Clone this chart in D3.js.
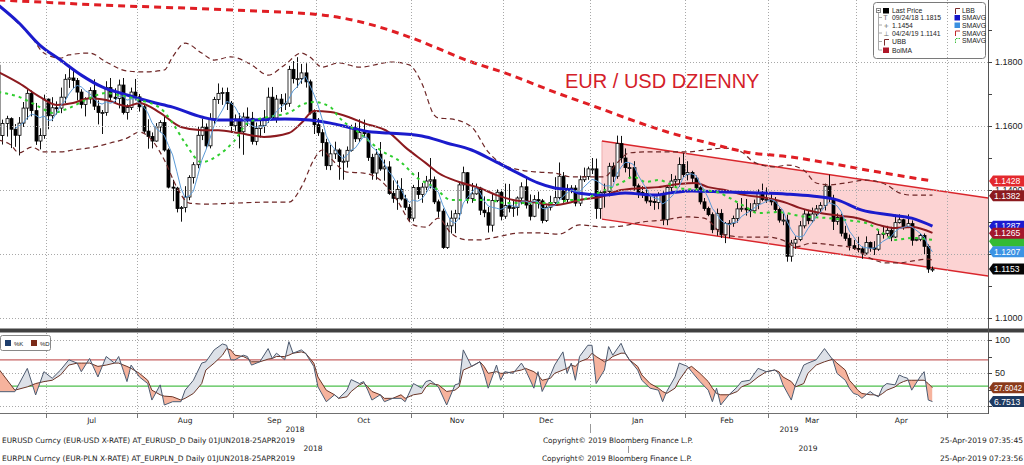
<!DOCTYPE html>
<html><head><meta charset="utf-8">
<script src="https://cdn.jsdelivr.net/npm/d3@7/dist/d3.min.js"></script>
<style>
html,body{margin:0;padding:0;background:#fff;}
svg{display:block;}
</style></head><body>
<svg id="chart" width="1024" height="465"></svg>
<script>
// ================= DATA =================
const startDate = "2018-06-14";
const firstOpen = 11790;              // price x 10000
const closes = [
11570,11608,11623,11590,11571,11609,11656,11702,11648,11553,11570,11684,
11632,11657,11656,11690,11746,11750,11742,11706,11667,11685,11711,11662,11642,11642,11720,11690,11686,11728,11642,11658,11706,11691,
11660,11584,11567,11553,11597,11611,11525,11409,11406,11342,11345,11378,11439,11479,11571,11596,11538,11622,11683,11702,11705,11671,11601,
11622,11582,11628,11624,11552,11592,11601,11625,11690,11625,11684,11669,11671,11777,11748,11748,11766,11738,11641,11604,
11579,11548,11476,11513,11525,11489,11490,11524,11594,11560,11580,11576,11502,11453,11512,11466,11472,11389,11374,11402,11372,11346,11312,
11408,11386,11409,11428,11432,11363,11334,11220,11288,11312,11326,11416,11454,11373,11388,11406,11337,11329,11290,11367,11393,11318,
11352,11343,11345,11375,11410,11353,11318,11370,11366,11305,11346,11361,11376,11443,11370,11403,11406,11359,11432,11442,11466,
11466,11342,11392,11395,11474,11443,11545,11500,11470,11470,11413,11392,11389,11366,11364,11361,11383,11307,11408,11428,11433,11480,11448,
11455,11437,11407,11363,11342,11323,11276,11327,11260,11295,11296,11311,11341,11343,11338,11335,11357,11390,11370,11371,
11363,11339,11306,11306,11193,11234,11245,11288,11325,11304,11325,11341,11352,11412,11374,11302,11314,11265,11249,11226,11217,
11216,11203,11236,11219,11215,11261,11264,11274,11253,11298,11307,11284,11295,11243,11246,11258,11224,11153,11153];
const highs = [
11852,11620,11632,11627,11606,11628,11675,11715,11711,11672,11593,11698,
11686,11690,11677,11720,11762,11791,11775,11750,11715,11690,11721,11746,11680,11650,11740,11750,11718,11745,11750,11668,11720,11747,
11700,11666,11621,11580,11609,11618,11632,11530,11432,11410,11350,11412,11446,11487,11597,11623,11608,11640,11691,11733,11720,11720,11678,
11636,11640,11642,11658,11644,11611,11625,11650,11720,11722,11697,11700,11702,11788,11803,11815,11794,11796,11745,11652,
11625,11590,11560,11541,11551,11530,11511,11536,11604,11610,11621,11620,11580,11513,11528,11550,11495,11490,11430,11430,11437,11385,11356,
11416,11456,11422,11444,11500,11442,11370,11342,11298,11336,11338,11425,11473,11456,11422,11420,11410,11380,11347,11388,11402,11402,
11420,11419,11370,11380,11424,11442,11386,11384,11395,11372,11352,11382,11440,11486,11456,11418,11415,11415,11445,11470,11473,
11500,11498,11396,11420,11485,11486,11570,11569,11530,11485,11490,11420,11412,11410,11380,11380,11393,11396,11415,11450,11445,11502,11515,
11490,11460,11445,11412,11375,11348,11330,11342,11340,11300,11306,11320,11359,11375,11372,11359,11370,11402,11420,11408,
11393,11378,11345,11327,11323,11244,11255,11303,11339,11338,11345,11353,11362,11420,11448,11385,11327,11326,11288,11261,11244,
11254,11223,11255,11239,11240,11275,11287,11288,11285,11323,11324,11310,11324,11305,11253,11265,11264,11230,11161];
const lows = [
11562,11542,11567,11531,11535,11508,11597,11620,11630,11541,11527,11560,
11590,11615,11636,11640,11672,11719,11718,11680,11655,11630,11670,11650,11605,11575,11632,11680,11670,11655,11636,11620,11650,11680,
11645,11576,11529,11530,11551,11580,11520,11405,11365,11330,11301,11330,11368,11420,11468,11556,11528,11530,11607,11669,11666,11650,11578,
11585,11530,11510,11600,11542,11540,11564,11578,11610,11620,11610,11644,11650,11660,11733,11720,11732,11720,11636,11575,
11569,11505,11463,11462,11497,11432,11432,11470,11520,11550,11550,11564,11491,11432,11432,11460,11429,11385,11360,11338,11367,11337,11300,
11302,11372,11360,11393,11405,11356,11314,11216,11216,11264,11265,11308,11398,11358,11360,11385,11322,11315,11267,11270,11362,11305,
11310,11330,11316,11320,11355,11342,11305,11315,11342,11296,11300,11336,11350,11370,11360,11362,11390,11349,11350,11425,11432,
11450,11310,11310,11345,11380,11425,11435,11485,11455,11436,11398,11375,11375,11358,11350,11338,11340,11290,11290,11395,11410,11410,11440,
11430,11420,11395,11355,11335,11318,11265,11257,11250,11234,11250,11285,11298,11332,11320,11315,11330,11340,11365,11360,
11352,11328,11298,11290,11176,11176,11216,11240,11280,11293,11298,11318,11325,11336,11362,11275,11291,11255,11241,11211,11213,
11205,11185,11198,11207,11197,11210,11248,11255,11240,11250,11295,11276,11281,11226,11240,11240,11198,11141,11144];

// indicator readings: [trading-day index, price x 10000]
const sma200 = [[0,11994],[25,11978],[57,11962],[78,11947],[90,11916],[99,11878],[114,11800],[122,11766],[134,11706],[146,11650],[154,11612],[162,11578],[171,11547],[180,11519],[191,11503],[200,11484],[212,11456],[225,11428]];
const smaBlue = [[0,11978],[5,11922],[10,11853],[15,11806],[20,11759],[25,11722],[31,11697],[37,11675],[42,11659],[49,11628],[53,11619],[61,11619],[69,11622],[75,11619],[80,11609],[85,11594],[90,11581],[94,11578],[102,11569],[108,11547],[114,11525],[120,11487],[126,11447],[130,11422],[134,11406],[138,11400],[140,11390],[146,11384],[151,11391],[158,11384],[162,11391],[167,11397],[175,11394],[183,11391],[190,11387],[196,11381],[202,11369],[208,11337],[215,11322],[220,11312],[225,11287]];
const bolMA = [[0,11769],[5,11734],[10,11691],[14,11666],[18,11672],[22,11687],[26,11681],[31,11662],[34,11672],[39,11641],[44,11597],[49,11587],[53,11587],[58,11578],[64,11566],[70,11578],[73,11609],[76,11647],[80,11644],[85,11625],[88,11609],[94,11581],[98,11534],[103,11484],[106,11453],[111,11425],[116,11406],[120,11384],[124,11369],[129,11362],[134,11353],[138,11362],[140,11369],[145,11378],[150,11400],[155,11406],[159,11409],[164,11419],[168,11422],[171,11409],[175,11400],[180,11384],[185,11375],[190,11359],[193,11344],[198,11328],[203,11319],[207,11312],[212,11291],[216,11281],[220,11284],[225,11266]];
const smaGreen = [[0,11706],[5,11691],[10,11659],[13,11641],[17,11656],[21,11681],[26,11703],[29,11697],[34,11681],[39,11656],[42,11609],[45,11547],[49,11487],[53,11509],[57,11556],[60,11609],[65,11628],[70,11641],[73,11666],[76,11675],[80,11659],[82,11628],[87,11578],[92,11525],[97,11487],[101,11437],[105,11409],[109,11369],[114,11369],[118,11369],[122,11359],[126,11359],[130,11359],[134,11359],[138,11369],[140,11369],[145,11394],[150,11422],[153,11441],[156,11425],[159,11431],[164,11406],[169,11400],[173,11394],[177,11369],[180,11347],[183,11328],[188,11331],[193,11319],[200,11312],[204,11306],[209,11297],[213,11266],[216,11244],[220,11250],[225,11244]];
const upperBand = [[4,11931],[8,11878],[11,11828],[15,11812],[17,11822],[22,11828],[26,11800],[31,11772],[35,11769],[40,11775],[42,11816],[45,11859],[49,11828],[52,11806],[56,11816],[61,11791],[65,11759],[69,11791],[73,11828],[75,11816],[78,11784],[82,11797],[87,11784],[95,11800],[99,11791],[102,11734],[105,11634],[106,11625],[109,11622],[114,11597],[118,11519],[121,11484],[126,11462],[130,11456],[134,11453],[138,11441],[142,11441],[146,11441],[149,11484],[152,11516],[156,11519],[161,11519],[166,11519],[170,11525],[175,11531],[179,11519],[182,11487],[187,11472],[190,11478],[194,11462],[197,11422],[200,11416],[204,11422],[209,11431],[214,11416],[217,11391],[220,11384],[225,11384]];
const lowerBand = [[0,11556],[3,11541],[5,11516],[8,11534],[11,11519],[15,11519],[18,11525],[23,11534],[27,11547],[31,11562],[34,11581],[37,11556],[40,11494],[43,11409],[46,11359],[50,11356],[57,11359],[65,11362],[70,11362],[73,11409],[76,11494],[78,11525],[80,11500],[84,11456],[88,11453],[92,11431],[96,11369],[100,11291],[103,11284],[106,11312],[109,11266],[113,11244],[116,11244],[120,11253],[126,11266],[130,11266],[135,11262],[140,11291],[146,11284],[150,11287],[155,11300],[160,11306],[166,11316],[170,11312],[175,11259],[180,11253],[185,11253],[190,11237],[192,11222],[196,11234],[201,11228],[206,11219],[210,11187],[214,11172],[217,11172],[220,11178],[224,11184],[225,11181]];

// trend channel (day index, price)
const channelDays = [145.4, 238.4];
const channelTop = [1.1553, 1.1375];
const channelBottom = [1.1309, 1.1131];

// stochastic (lower panel)
const stochDays = [0,4,7,9,11,13,15,17,19,20,22,24,26,28,29,31,32,34,36,37,39,40,42,44,45,47,49,50,52,54,55,56,57,59,60,61,63,65,66,67,69,70,71,73,74,76,77,79,81,82,84,85,87,88,89,90,92,93,95,97,98,100,102,103,104,106,108,110,111,112,114,116,117,118,120,121,122,124,126,127,129,130,131,133,134,136,137,138,139,140,142,143,144,146,147,148,150,151,152,154,155,157,159,160,161,163,164,166,167,169,171,172,173,174,176,178,179,181,183,185,187,188,189,191,192,194,195,197,199,201,202,204,205,206,207,208,210,211,212,213,214,216,217,218,219,220,222,223,224,225];
const pctK = [21.7,21.7,57,16.7,52,42,54.5,70,65,52,72,44,75,65,75,37,62,44,34,9,32,1.5,6.5,6.5,24,39,65,67,85,94,92,70,70,77,75,62,67,87,72,80,70,97.5,80,85,80,60,29,6.5,17,11.6,24,40,34,37,24,9,17,6.5,11.6,11.6,6.5,34,27,37,39,29,1.5,32,34,85,60,67,49.5,27,62,39,52,49.5,65,54.5,27,52,22,47,62,82,49.5,65,39,75,92,92,34,54.5,90,77,95,80,70,54.5,39,27,24,6.5,22,44,65,60,52,37,24,6.5,27,1.5,17,29,37,39,57,52,54.5,49.5,32,9,32,62,65,70,87,70,49.5,39,27,19,17,11.6,22,17,14,29,34,32,47,44,42,24,44,52,9,6.75];
const pctD = [57,24,29,34,37,39,47,62,65,65,65,60,62,65,65,60,57,49.5,39,24,17,15,14,9,11.6,19,34,54.5,65,77,87,85,77,75,72,67,67,71,72,75,75,77,80,82,80,65,44,24,17,11.6,14,22,32,35,29,22,17,11.6,11.6,17,11.6,17,19,29,34,32,22,24,29,54.5,60,67,60,49.5,52,49.5,49.5,52,54.5,57,52,47,39,42,49.5,54.5,57,62,60,67,72,80,75,67,70,75,80,80,70,60,47,34,27,22,19,27,39,57,60,49.5,37,27,19,17,17,22,29,34,44,52,54.5,52,44,37,29,34,49.5,62,67,71,65,54.5,39,32,24,19,17,17,15,19,24,29,34,37,39,39,39,39,34,27.6];

const priceTicks = [1.10, 1.12, 1.14, 1.16, 1.18];
const priceTickLabels = ["1.1000","","1.1400","1.1600","1.1800"];   // 1.1200 sits fully under a value tag
const tagValues = [1.1428, 1.1382, 1.1287, 1.1240, 1.1265, 1.1207, 1.1153];
const tagLabels = ["1.1428","1.1382","1.1287","","1.1265","1.1207","1.1153"];
const stochTicks = [0, 50, 100];
const stochTickLabels = ["","50","100"];
const stochTagValues = [27.6042, 6.7513];
const stochTagLabels = ["27.6042","6.7513"];
const monthNames = ["Jan","Feb","Mar","Apr","May","Jun","Jul","Aug","Sep","Oct","Nov","Dec"];
const legendLeft = ["Last Price","09/24/18 1.1815","1.1454","04/24/19 1.1141","UBB","BolMA"];
const legendLeftMarks = ["","T","+","\u22A5","",""];
const legendRight = ["LBB","SMAVG","SMAVG","SMAVG","SMAVG"];
const stochLegend = ["%K","%D"];
const titleText = "EUR / USD DZIENNY";
const infoLines = ["EURUSD Curncy (EUR-USD X-RATE) AT_EURUSD_D  Daily 01JUN2018-25APR2019",
                   "EURPLN Curncy (EUR-PLN X-RATE) AT_EURPLN_D  Daily 01JUN2018-25APR2019"];
const copyrightText = "Copyright\u00A9 2019 Bloomberg Finance L.P.";
const stampLines = ["25-Apr-2019 07:35:45","25-Apr-2019 07:23:56"];
const yearLabels = ["2018","2019"];

// ================= DRAW =================
const svg = d3.select("#chart");
const F = "'Liberation Sans', Arial, sans-serif";
const FD = "'DejaVu Sans', sans-serif";
svg.append("rect").attr("width",1024).attr("height",465).attr("fill","#fff");

const PR = 988;          // plot right edge
const x = d3.scaleLinear().domain([0, 225]).range([-1.74, 932.46]);
const y = d3.scaleLinear().domain([1.10, 1.18]).range([318, 62]);
const ys = d3.scaleLinear().domain([0, 100]).range([406, 340]);

// trading dates (weekdays), extended for axis
const parse = d3.timeParse("%Y-%m-%d");
const dates = [];
for (let d = parse(startDate); dates.length < 240; d = d3.timeDay.offset(d, 1)) {
  if (d.getDay() !== 0 && d.getDay() !== 6) dates.push(new Date(d));
}
const bounds = [];
for (let i = 1; i < dates.length; i++) {
  if (dates[i].getMonth() !== dates[i-1].getMonth()) bounds.push({i: i - 0.5, m: dates[i].getMonth()});
}
const visBounds = bounds.filter(b => x(b.i) > 0 && x(b.i) < PR);

const defs = svg.append("defs");
defs.append("clipPath").attr("id","cMain").append("rect").attr("x",0).attr("y",0).attr("width",PR).attr("height",328);
defs.append("clipPath").attr("id","cLow").append("rect").attr("x",0).attr("y",333).attr("width",PR).attr("height",80);

const gMain = svg.append("g").attr("clip-path","url(#cMain)");

// channel
const chPoly = [[x(channelDays[0]), y(channelTop[0])],[x(channelDays[1]), y(channelTop[1])],
                [x(channelDays[1]), y(channelBottom[1])],[x(channelDays[0]), y(channelBottom[0])]];
gMain.append("path").attr("d", "M" + chPoly.join("L") + "Z").attr("fill","#fcd3d3").attr("stroke","none");
gMain.append("line").attr("x1",chPoly[0][0]).attr("x2",chPoly[3][0]).attr("y1",chPoly[0][1]).attr("y2",chPoly[3][1])
  .attr("stroke","#e8a0a0").attr("stroke-width",0.8);

// legend box (under grid)
const lg = svg.append("g");
lg.append("rect").attr("x",873.5).attr("y",2.5).attr("width",112).attr("height",56).attr("rx",3)
  .attr("fill","#fff").attr("stroke","#7a7a7a");

// grid
const grid = svg.append("g").attr("stroke","#a8a8a8").attr("stroke-width",1).attr("stroke-dasharray","1,2");
priceTicks.forEach(p => grid.append("line").attr("x1",0).attr("x2",PR).attr("y1",Math.round(y(p))+0.5).attr("y2",Math.round(y(p))+0.5));
stochTicks.forEach(v => grid.append("line").attr("x1",0).attr("x2",PR).attr("y1",Math.round(ys(v))+0.5).attr("y2",Math.round(ys(v))+0.5));
visBounds.forEach(b => {
  const xx = Math.round(x(b.i)) + 0.5;
  grid.append("line").attr("x1",xx).attr("x2",xx).attr("y1",0).attr("y2",328);
  grid.append("line").attr("x1",xx).attr("x2",xx).attr("y1",333).attr("y2",413);
});

// channel lines
gMain.append("line").attr("x1",chPoly[0][0]).attr("y1",chPoly[0][1]).attr("x2",chPoly[1][0]).attr("y2",chPoly[1][1])
  .attr("stroke","#d9262c").attr("stroke-width",1.5);
gMain.append("line").attr("x1",chPoly[3][0]).attr("y1",chPoly[3][1]).attr("x2",chPoly[2][0]).attr("y2",chPoly[2][1])
  .attr("stroke","#d9262c").attr("stroke-width",1.5);

// candles
const bars = closes.map((c, i) => ({i, o: (i ? closes[i-1] : firstOpen) / 1e4, c: c / 1e4, h: highs[i] / 1e4, l: lows[i] / 1e4}));
const gC = gMain.append("g");
bars.forEach(b => {
  const cx = Math.round(x(b.i)) + 0.5;
  gC.append("line").attr("x1",cx).attr("x2",cx).attr("y1",y(b.h)).attr("y2",y(b.l)).attr("stroke","#111").attr("stroke-width",1);
  const top = y(Math.max(b.o, b.c)), bot = y(Math.min(b.o, b.c));
  const up = b.c >= b.o;
  gC.append("rect").attr("x",cx - 1.5).attr("y",top).attr("width",3).attr("height",Math.max(1, bot - top))
    .attr("fill", up ? "#fff" : "#000").attr("stroke","#000").attr("stroke-width",0.8);
});

// indicator lines
const pline = d3.line().x(d => x(d[0])).y(d => y(d[1] / 1e4)).curve(d3.curveMonotoneX);
gMain.append("path").attr("d",pline(upperBand)).attr("fill","none").attr("stroke","#6e2626").attr("stroke-width",1.2).attr("stroke-dasharray","5,3.5");
gMain.append("path").attr("d",pline(lowerBand)).attr("fill","none").attr("stroke","#6e2626").attr("stroke-width",1.2).attr("stroke-dasharray","5,3.5");
gMain.append("path").attr("d",pline(bolMA)).attr("fill","none").attr("stroke","#8c1a1f").attr("stroke-width",2);
gMain.append("path").attr("d",pline(smaBlue)).attr("fill","none").attr("stroke","#1b1bcc").attr("stroke-width",3);
gMain.append("path").attr("d",pline(smaGreen)).attr("fill","none").attr("stroke","#2fce2f").attr("stroke-width",2).attr("stroke-dasharray","3,4");
// 5-day simple moving average of the closes
const sma5 = bars.filter(b => b.i >= 4).map(b => [b.i, d3.mean(closes.slice(b.i - 4, b.i + 1))]);
gMain.append("path").attr("d",d3.line().x(d => x(d[0])).y(d => y(d[1] / 1e4))(sma5)).attr("fill","none").attr("stroke","#5b9bd8").attr("stroke-width",1);
gMain.append("path").attr("d",pline(sma200)).attr("fill","none").attr("stroke","#e01e24").attr("stroke-width",3).attr("stroke-dasharray","7,5");

// title
svg.append("text").attr("x",565).attr("y",88).attr("font-family",F).attr("font-size",20).attr("fill","#d42029").text(titleText);

// ---------- lower panel ----------
const gLow = svg.append("g").attr("clip-path","url(#cLow)");
gLow.append("line").attr("x1",0).attr("x2",PR).attr("y1",ys(70)).attr("y2",ys(70)).attr("stroke","#c86464").attr("stroke-width",1.2);
gLow.append("line").attr("x1",0).attr("x2",PR).attr("y1",ys(30)).attr("y2",ys(30)).attr("stroke","#4cbf4c").attr("stroke-width",1.2);
const st = stochDays.map((d, k) => ({d, k: pctK[k], D: pctD[k]}));
defs.append("clipPath").attr("id","aboveK").append("path")
  .attr("d", d3.area().x(p => x(p.d)).y0(p => ys(p.k)).y1(333)(st));
defs.append("clipPath").attr("id","belowK").append("path")
  .attr("d", d3.area().x(p => x(p.d)).y0(p => ys(p.k)).y1(413)(st));
const between = d3.area().x(p => x(p.d)).y0(p => ys(p.k)).y1(p => ys(p.D));
gLow.append("g").attr("clip-path","url(#aboveK)").append("path").attr("d",between(st)).attr("fill","#f6b39d");
gLow.append("g").attr("clip-path","url(#belowK)").append("path").attr("d",between(st)).attr("fill","#dde1e8");
gLow.append("path").attr("d",d3.line().x(p => x(p.d)).y(p => ys(p.D))(st)).attr("fill","none").attr("stroke","#6a3527").attr("stroke-width",1);
gLow.append("path").attr("d",d3.line().x(p => x(p.d)).y(p => ys(p.k))(st)).attr("fill","none").attr("stroke","#4b5a70").attr("stroke-width",1);

// stoch legend
const sl = svg.append("g");
sl.append("rect").attr("x",0.5).attr("y",335.5).attr("width",50).attr("height",15).attr("rx",2).attr("fill","#fff").attr("stroke","#888");
[["#1f3f6e",5],["#7a2a18",31]].forEach((c, k) => {
  sl.append("rect").attr("x",c[1]).attr("y",340).attr("width",6).attr("height",6).attr("fill",c[0]);
  sl.append("text").attr("x",c[1] + 9).attr("y",346).attr("font-family",F).attr("font-size",6).attr("fill","#222").text(stochLegend[k]);
});

// ---------- frame ----------
svg.append("rect").attr("x",0).attr("y",328.5).attr("width",1024).attr("height",4).attr("fill","#404040");
svg.append("line").attr("x1",0).attr("x2",PR).attr("y1",413.5).attr("y2",413.5).attr("stroke","#707070");
svg.append("line").attr("x1",PR + 0.5).attr("x2",PR + 0.5).attr("y1",0).attr("y2",414).attr("stroke","#555");

// right axis ticks/labels (main)
const ax = svg.append("g").attr("font-family",F).attr("font-size",9).attr("fill","#222");
d3.range(1.10, 1.195, 0.01).forEach(p => {
  const yy = Math.round(y(p)) + 0.5;
  ax.append("line").attr("x1",PR).attr("x2",PR + 4).attr("y1",yy).attr("y2",yy).attr("stroke","#444");
});
priceTicks.forEach((p, k) => { if (priceTickLabels[k]) ax.append("text").attr("x",995).attr("y",y(p) + 3.3).text(priceTickLabels[k]); });
[0,25,50,75,100].forEach(v => {
  const yy = Math.round(ys(v)) + 0.5;
  ax.append("line").attr("x1",PR).attr("x2",PR + 4).attr("y1",yy).attr("y2",yy).attr("stroke","#444");
});
stochTicks.forEach((v, k) => { if (stochTickLabels[k]) ax.append("text").attr("x",995).attr("y",ys(v) + 3.3).text(stochTickLabels[k]); });

// value tags
function tag(yy, fill, label) {
  const g = svg.append("g");
  g.append("path").attr("d",`M${PR+1},${yy} L${PR+5},${yy-5.5} H1024 V${yy+5.5} H${PR+5} Z`).attr("fill",fill);
  if (label) {
    const t = g.append("text").attr("x",994).attr("y",yy + 3.2).attr("font-family",F).attr("font-size",8.6).attr("fill","#fff").text(label);
    if (label.length > 6) t.attr("textLength",28).attr("lengthAdjust","spacingAndGlyphs");
  }
}
const tagColors = ["#e3282d","#8c1b1f","#1b1bd0","#34bb34","#a3162c","#3c93e4","#050505"];
tagValues.forEach((v, k) => tag(y(v), tagColors[k], tagLabels[k]));
const stochTagColors = ["#8a3a1a","#1e3a62"];
stochTagValues.forEach((v, k) => tag(ys(v), stochTagColors[k], stochTagLabels[k]));

// month axis
const ma = svg.append("g").attr("font-family",FD).attr("font-size",7.5).attr("fill","#222");
visBounds.forEach(b => {
  const xx = Math.round(x(b.i)) + 0.5;
  svg.append("line").attr("x1",xx).attr("x2",xx).attr("y1",414).attr("y2",418).attr("stroke","#777");
});
for (let k = 0; k < bounds.length - 1; k++) {
  const a = bounds[k], b = bounds[k+1];
  if (x(a.i) < 0 || x(b.i) > PR) continue;
  ma.append("text").attr("x",(x(a.i) + x(b.i)) / 2).attr("y",423).attr("text-anchor","middle").text(monthNames[a.m]);
}
ma.append("text").attr("x",295).attr("y",432).attr("text-anchor","middle").text(yearLabels[0]);
ma.append("text").attr("x",789).attr("y",432).attr("text-anchor","middle").text(yearLabels[1]);
ma.append("text").attr("x",313).attr("y",451).attr("text-anchor","middle").text(yearLabels[0]);
ma.append("text").attr("x",808).attr("y",451).attr("text-anchor","middle").text(yearLabels[1]);
svg.append("line").attr("x1",590.5).attr("x2",590.5).attr("y1",424).attr("y2",433).attr("stroke","#999");
svg.append("line").attr("x1",628.5).attr("x2",628.5).attr("y1",446).attr("y2",453).attr("stroke","#999");

// footer
const ft = svg.append("g").attr("font-family",FD).attr("font-size",7.5).attr("fill","#222");
ft.append("text").attr("x",2).attr("y",443).attr("textLength",293).attr("lengthAdjust","spacingAndGlyphs").text(infoLines[0]);
ft.append("text").attr("x",2).attr("y",461).attr("textLength",293).attr("lengthAdjust","spacingAndGlyphs").text(infoLines[1]);
ft.append("text").attr("x",543).attr("y",443).attr("textLength",150).attr("lengthAdjust","spacingAndGlyphs").text(copyrightText);
ft.append("text").attr("x",542).attr("y",461).attr("textLength",150).attr("lengthAdjust","spacingAndGlyphs").text(copyrightText);
ft.append("text").attr("x",940).attr("y",443).attr("textLength",83).attr("lengthAdjust","spacingAndGlyphs").text(stampLines[0]);
ft.append("text").attr("x",940).attr("y",461).attr("textLength",83).attr("lengthAdjust","spacingAndGlyphs").text(stampLines[1]);

// legend contents
const rowsL = [13, 20, 27.5, 35.5, 44, 52.5];
lg.append("rect").attr("x",876.5).attr("y",8.5).attr("width",4).attr("height",4).attr("fill","#fff").attr("stroke","#888");
lg.append("line").attr("x1",877.5).attr("x2",879.5).attr("y1",10.5).attr("y2",10.5).attr("stroke","#555");
lg.append("line").attr("x1",878.5).attr("x2",878.5).attr("y1",13).attr("y2",50).attr("stroke","#aaa");
[20,27.5,35.5,44,52.5].forEach(r => lg.append("line").attr("x1",878.5).attr("x2",882).attr("y1",r-2.5).attr("y2",r-2.5).attr("stroke","#aaa"));
lg.append("rect").attr("x",883).attr("y",8).attr("width",6).attr("height",5.5).attr("fill","#000");
legendLeft.forEach((t, k) => lg.append("text").attr("x",892).attr("y",rowsL[k]).attr("font-family",F).attr("font-size",6.8).attr("fill","#222").text(t));
legendLeftMarks.forEach((t, k) => { if (t) lg.append("text").attr("x",883.5).attr("y",rowsL[k]).attr("font-family",FD).attr("font-size",6.5).attr("fill","#666").text(t); });
lg.append("path").attr("d","M889,39.5 H884.5 V45.5").attr("fill","none").attr("stroke","#7a2a2a").attr("stroke-width",1);
lg.append("rect").attr("x",883).attr("y",47.5).attr("width",6).attr("height",5.5).attr("fill","#b0182a");
const rowsR = [13, 20, 27.5, 35.5, 43];
legendRight.forEach((t, k) => lg.append("text").attr("x",962).attr("y",rowsR[k]).attr("font-family",F).attr("font-size",6.8).attr("fill","#222").text(t));
lg.append("path").attr("d","M960,8.5 H955.5 V14").attr("fill","none").attr("stroke","#7a2a2a");
lg.append("rect").attr("x",954.5).attr("y",15).attr("width",5.5).attr("height",5.5).attr("fill","#1515c8");
lg.append("rect").attr("x",954.5).attr("y",22.5).attr("width",5.5).attr("height",5.5).attr("fill","#3a8fe0");
lg.append("path").attr("d","M960,31 H955.5 V36").attr("fill","none").attr("stroke","#c0282a");
lg.append("path").attr("d","M960,38.5 H955.5 V44").attr("fill","none").attr("stroke","#3cc03c").attr("stroke-dasharray","1.5,1");
</script>
</body></html>
